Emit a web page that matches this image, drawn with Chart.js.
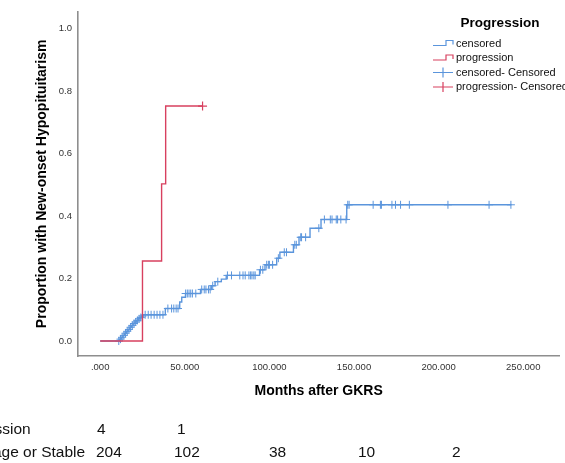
<!DOCTYPE html>
<html>
<head>
<meta charset="utf-8">
<script src="https://cdn.jsdelivr.net/npm/chart.js@4"></script>
<style>
  html, body { margin: 0; padding: 0; background: #fff; }
</style>
</head>
<body>
<canvas id="km" width="565" height="463"></canvas>
<script>
// axis ticks
const xTicks = [0, 50, 100, 150, 200, 250];
const yTicks = [0, 0.2, 0.4, 0.6, 0.8, 1.0];

// progression group (KM steps)
const progTimes = [0, 25, 36.3, 38.7, 60.5];
const progValues = [0, 0.256, 0.503, 0.752, 0.752];
const progCensored = [60.5];

// shrinkage or stable group (KM steps)
const stableTimes = [0, 11.5, 12.5, 13.5, 14.5, 15.5, 16.5, 17.5, 18.5, 19.5, 20.5, 21.5, 22.5, 23.5, 24.5, 25.5,
  38.5, 47, 48.2, 50.4, 59.3, 65.7, 67.9, 71.6, 74.5, 94.2, 97.4, 104.3, 106.2, 114.2, 117.5, 124, 130.5, 145.7, 243];
const stableValues = [0, 0.006, 0.012, 0.018, 0.025, 0.031, 0.037, 0.044, 0.05, 0.056, 0.061, 0.066, 0.071, 0.075, 0.08, 0.084,
  0.104, 0.125, 0.14, 0.152, 0.165, 0.177, 0.19, 0.198, 0.21, 0.228, 0.244, 0.265, 0.284, 0.308, 0.332, 0.361, 0.389, 0.436, 0.436];
const stableCensored = [11, 12, 13, 14, 15, 16, 17, 18, 19, 20, 21, 22, 23, 24, 25,
  26.6, 28.4, 30.1, 31.9, 33.6, 35.3, 37.1, 40, 42.2, 43.5, 44.9, 46,
  50.5, 51.5, 52.5, 53.5, 54.5, 56.5, 60, 61.5, 62.5, 64, 65, 66.5, 69.5,
  75.2, 77.6, 82.5, 84.4, 85.7, 87.9, 88.9, 89.7, 90.8, 91.6, 94.7, 96.1,
  98.4, 99.4, 100, 101.9, 105.3, 108.8, 110.1, 115, 115.9, 118.5, 119, 121.4, 129.2,
  132.5, 136, 137, 139.5, 140.3, 142.2, 145.3,
  146.3, 147.1, 161.3, 165.6, 166.2, 172.4, 174.5, 177.5, 182.7, 205.5, 229.8, 242.7];

// number at risk
const riskGroups = ['Progression', 'Shrinkage or Stable'];
const riskProgression = ['4', '1'];
const riskStable = ['204', '102', '38', '10', '2'];

const legendTitle = 'Progression';
const legendItems = ['censored', 'progression', 'censored- Censored', 'progression- Censored'];

const BLUE = '#5b95dc';
const RED = '#d8405f';
const FONT = '"Liberation Sans", Arial, sans-serif';

function stepValue(times, values, t) {
  let v = values[0];
  for (let i = 0; i < times.length; i++) {
    if (times[i] <= t) v = values[i];
  }
  return v;
}

const toPoints = (times, values) => times.map((t, i) => ({ x: t, y: values[i] }));
const toMarks = (marks, times, values) => marks.map(t => ({ x: t, y: stepValue(times, values, t) }));

const extras = {
  id: 'extras',
  afterDraw(chart) {
    const ctx = chart.ctx;
    ctx.save();

    // legend
    ctx.fillStyle = '#000';
    ctx.font = 'bold 13.5px ' + FONT;
    ctx.textAlign = 'center';
    ctx.textBaseline = 'middle';
    ctx.fillText(legendTitle, 500, 23);

    const rows = [43.5, 58, 72.5, 87];
    const cols = [BLUE, RED, BLUE, RED];
    ctx.font = '11px ' + FONT;
    ctx.textAlign = 'left';
    legendItems.forEach((txt, i) => {
      const y = rows[i];
      ctx.strokeStyle = cols[i];
      ctx.lineWidth = 1.2;
      ctx.beginPath();
      if (i < 2) {
        ctx.moveTo(433, y + 2);
        ctx.lineTo(446, y + 2);
        ctx.lineTo(446, y - 3);
        ctx.lineTo(453, y - 3);
        ctx.lineTo(453, y + 1);
      } else {
        ctx.moveTo(433, y);
        ctx.lineTo(453, y);
        ctx.moveTo(443, y - 5);
        ctx.lineTo(443, y + 5);
      }
      ctx.stroke();
      ctx.fillStyle = '#111';
      ctx.fillText(txt, 456, y);
    });

    // number at risk table
    ctx.font = '15.5px ' + FONT;
    ctx.fillStyle = '#111';
    ctx.textAlign = 'left';
    ctx.fillText(riskGroups[0], -52, 430);
    ctx.fillText(riskGroups[1], -51, 453);
    const colX = [96, 174, 269, 358, 452];
    riskProgression.forEach((n, i) => ctx.fillText(n, colX[i] + (i === 0 ? 1 : 3), 430));
    riskStable.forEach((n, i) => ctx.fillText(n, colX[i], 453));

    ctx.restore();
  }
};

new Chart(document.getElementById('km').getContext('2d'), {
  type: 'line',
  data: {
    datasets: [
      {
        data: toPoints(progTimes, progValues),
        borderColor: RED,
        borderWidth: 1.4,
        stepped: 'before',
        pointRadius: 0,
        fill: false,
      },
      {
        data: toMarks(progCensored, progTimes, progValues),
        borderColor: RED,
        showLine: false,
        pointStyle: 'cross',
        pointRadius: 4.5,
        pointBorderWidth: 1.2,
      },
      {
        data: toPoints(stableTimes, stableValues),
        borderColor: BLUE,
        borderWidth: 1.4,
        stepped: 'before',
        pointRadius: 0,
        fill: false,
      },
      {
        data: toMarks(stableCensored, stableTimes, stableValues),
        borderColor: BLUE,
        showLine: false,
        pointStyle: 'cross',
        pointRadius: 4,
        pointBorderWidth: 1,
      },
    ],
  },
  options: {
    responsive: false,
    animation: false,
    devicePixelRatio: 1,
    layout: { padding: { top: 10, left: 0, right: 0, bottom: 0 } },
    scales: {
      x: {
        type: 'linear',
        min: -13.1,
        max: 271.3,
        afterBuildTicks: (scale) => { scale.ticks = xTicks.map(v => ({ value: v })); },
        afterFit: (scale) => { scale.height = 107; },
        grid: { display: false, drawTicks: false },
        border: { display: true, color: '#8e8e8e', width: 1.6 },
        ticks: {
          padding: 6,
          maxRotation: 0,
          autoSkip: false,
          color: '#333',
          font: { family: FONT, size: 9.5 },
          callback: (v) => (v === 0 ? '.000' : Number(v).toFixed(3)),
        },
        title: {
          display: true,
          text: 'Months after GKRS',
          color: '#000',
          font: { family: FONT, size: 14, weight: 'bold' },
          padding: { top: 0, bottom: 63.6 },
        },
      },
      y: {
        min: -0.048,
        max: 1.054,
        afterBuildTicks: (scale) => { scale.ticks = yTicks.map(v => ({ value: v })); },
        afterFit: (scale) => { scale.width = 78; },
        grid: { display: false, drawTicks: false },
        border: { display: true, color: '#8e8e8e', width: 1.6 },
        ticks: {
          padding: 6,
          color: '#333',
          font: { family: FONT, size: 9.5 },
          callback: (v) => Number(v).toFixed(1),
        },
        title: {
          display: true,
          text: 'Proportion with New-onset Hypopituitarism',
          color: '#000',
          font: { family: FONT, size: 14, weight: 'bold' },
          padding: { top: 33.6, bottom: 0 },
        },
      },
    },
    plugins: {
      legend: { display: false },
      tooltip: { enabled: false },
    },
  },
  plugins: [extras],
});
</script>
</body>
</html>
